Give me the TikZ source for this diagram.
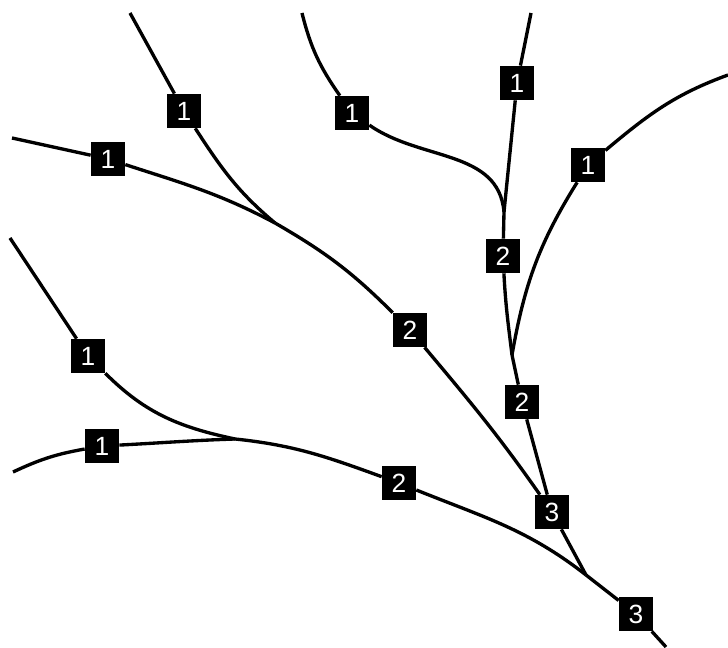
\documentclass[tikz,border=0pt]{standalone}
\usepackage{fontspec}
\setmainfont{Liberation Sans}

\begin{document}
\begin{tikzpicture}[x=0.02cm,y=0.02cm,
  order/.style={fill=black,text=white,minimum size=0.68cm,inner sep=0pt,font=\fontsize{15}{15}\selectfont},
  stream/.style={line width=1.9pt}]
\useasboundingbox (0,0) rectangle (728,648);
\path (184,537) node[order](A1){1} (108,489) node[order](B1){1} (352,535) node[order](C1){1} (517,565) node[order](D1){1} (588,483) node[order](E1){1} (88,292) node[order](F1){1} (102,202) node[order](G1){1} (410,318) node[order](AB2){2} (503,392) node[order](CD2){2} (522,246) node[order](CDE2){2} (399,165) node[order](FG2){2} (552,136) node[order](Top3){3} (636,34) node[order](Out3){3};

\path (130,635) coordinate(srcA) (12,510) coordinate(srcB) (302,635) coordinate(srcC) (531,635) coordinate(srcD) (728,573) coordinate(srcE) (10,410) coordinate(srcF) (13,176) coordinate(srcG) (275,425) coordinate(jAB) (504,436) coordinate(jCD) (512,293) coordinate(jE) (235,209) coordinate(jFG) (586,73) coordinate(j3) (666,1) coordinate(mouth);

\draw[stream] (srcA) -- (A1);
\draw[stream] (A1) to[out=-57,in=140] (jAB);
\draw[stream] (srcB) -- (B1);
\draw[stream] (B1) to[out=-18,in=152] (jAB);
\draw[stream] (jAB) to[out=-30,in=135] (AB2);
\draw[stream] (AB2) to[out=-50,in=125] (Top3);
\draw[stream] (srcC) to[out=-76,in=125] (C1);
\draw[stream] (C1) to[out=-35,in=95] (jCD);
\draw[stream] (srcD) -- (D1);
\draw[stream] (D1) -- (jCD);
\draw[stream] (jCD) -- (CD2);
\draw[stream] (CD2) to[out=-87,in=97] (jE);
\draw[stream] (srcE) to[out=200,in=40] (E1);
\draw[stream] (E1) to[out=238,in=80] (jE);
\draw[stream] (jE) -- (CDE2);
\draw[stream] (CDE2) -- (Top3);
\draw[stream] (srcF) -- (F1);
\draw[stream] (F1) to[out=-45,in=168] (jFG);
\draw[stream] (srcG) to[out=25,in=190] (G1);
\draw[stream] (G1) to[out=3,in=182] (jFG);
\draw[stream] (jFG) to[out=-6,in=160] (FG2);
\draw[stream] (FG2) to[out=-22,in=142] (j3);
\draw[stream] (Top3) -- (j3);
\draw[stream] (j3) -- (Out3);
\draw[stream] (Out3) -- (mouth);
\end{tikzpicture}
\end{document}
